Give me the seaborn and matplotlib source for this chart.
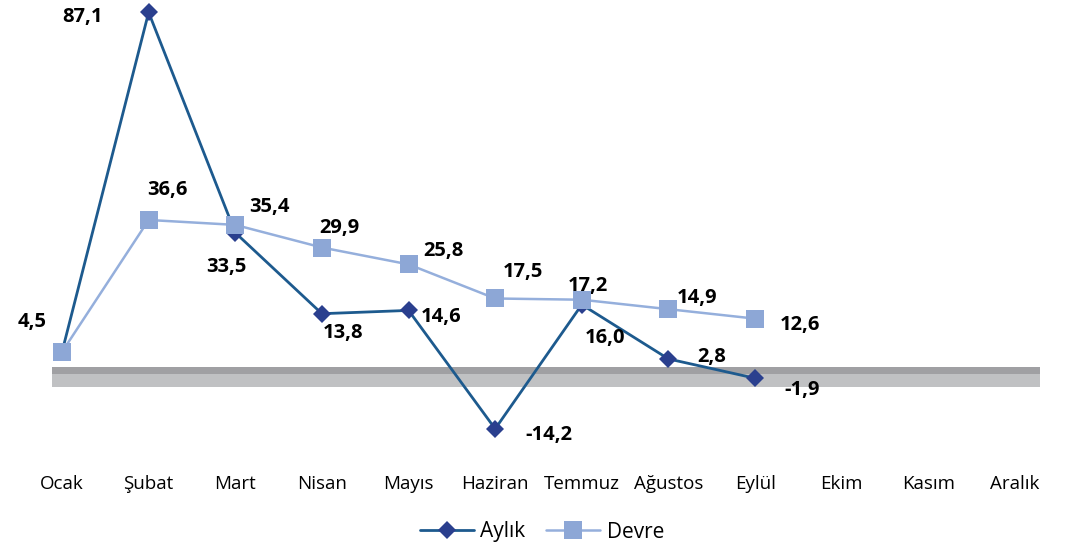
import numpy as np
import pandas as pd
import matplotlib
matplotlib.use('Agg')
from matplotlib import pyplot as plt
import seaborn as sb

# months on the x axis (only the first nine have data)
months = ['Ocak', 'Şubat', 'Mart', 'Nisan', 'Mayıs', 'Haziran', 'Temmuz',
          'Ağustos', 'Eylül', 'Ekim', 'Kasım', 'Aralık']
aylik = [4.5, 87.1, 33.5, 13.8, 14.6, -14.2, 16.0, 2.8, -1.9]
devre = [4.5, 36.6, 35.4, 29.9, 25.8, 17.5, 17.2, 14.9, 12.6]
# labels shown next to the points (Devre Ocak shares the Aylık label)
aylik_labels = ['4,5', '87,1', '33,5', '13,8', '14,6', '-14,2', '16,0', '2,8', '-1,9']
devre_labels = ['', '36,6', '35,4', '29,9', '25,8', '17,5', '17,2', '14,9', '12,6']

# label offsets in pixels (dx, dy)
aylik_off = [(-30, 30), (-66, -5), (-9, -34), (21, -19), (33, -7),
             (54, -6), (23, -33), (43, 2), (47, -12)]
devre_off = [(0, 0), (19, 30), (34, 18), (18, 20), (35, 13),
             (28, 26), (6, 14), (29, 11), (45, -6)]

df = pd.DataFrame({'pos': np.arange(len(aylik)), 'Aylık': aylik, 'Devre': devre})

sb.set_style('white')
plt.rcParams['font.family'] = ['Open Sans', 'DejaVu Sans']

fig = plt.figure(figsize=(10.65, 5.48), dpi=100)
ax = fig.add_axes([18.7 / 1065, 83 / 548, 1039.6 / 1065, 465 / 548])

# grey 3D-like floor at zero
bx = [-0.115, 11.29]
ax.fill_between(bx, -4.1, -0.85, color='#c0c1c3', lw=0, zorder=1)
ax.fill_between(bx, -0.85, 0.85, color='#a0a0a3', lw=0, zorder=1)

sb.lineplot(data=df, x='pos', y='Aylık', ax=ax, color='#1d5a8e', linewidth=2.0,
            marker='D', markersize=9, markerfacecolor='#2a3f8e',
            markeredgecolor='#2a3f8e', markeredgewidth=0, label='Aylık', zorder=3)
sb.lineplot(data=df, x='pos', y='Devre', ax=ax, color='#95afdc', linewidth=1.8,
            marker='s', markersize=12.5, markerfacecolor='#8da7d6',
            markeredgecolor='#8da7d6', markeredgewidth=0, label='Devre', zorder=4)

for i, v in enumerate(aylik):
    ax.annotate(aylik_labels[i], (i, v), xytext=aylik_off[i], textcoords='offset pixels',
                ha='center', va='center', fontsize=14.5, fontweight='bold', color='black')
for i, v in enumerate(devre):
    if devre_labels[i]:
        ax.annotate(devre_labels[i], (i, v), xytext=devre_off[i], textcoords='offset pixels',
                    ha='center', va='center', fontsize=14.5, fontweight='bold', color='black')

ax.set_xlim(-0.5, 11.5)
ax.set_ylim(-23.0, 90.1)
ax.set_xticks(range(len(months)))
ax.set_xticklabels(months, fontsize=13.5, color='black')
ax.set_yticks([])
ax.set_xlabel('')
ax.set_ylabel('')
ax.tick_params(axis='x', length=0, pad=7)
sb.despine(ax=ax, left=True, bottom=True)

ax.get_legend().remove()
h, l = ax.get_legend_handles_labels()
leg = fig.legend(h, l, loc='center', bbox_to_anchor=(542 / 1065, 1 - 532 / 548), ncol=2,
                 frameon=False, fontsize=15, handlelength=2.6, columnspacing=1.0,
                 handletextpad=0.3)
for t in leg.get_texts():
    t.set_color('black')

fig.savefig('out.png', dpi=100)
